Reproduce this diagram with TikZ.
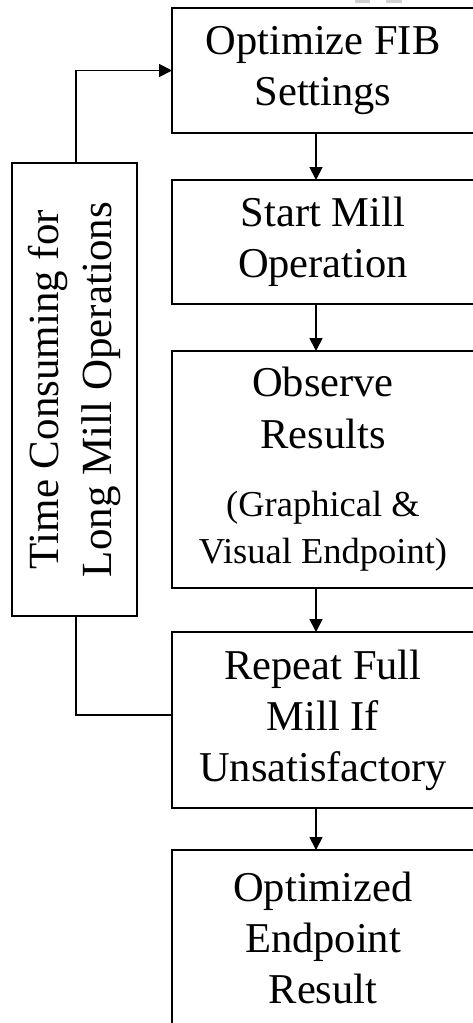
\documentclass[tikz,border=0pt]{standalone}
\usepackage{fontspec}
\setmainfont{Liberation Serif}
\usetikzlibrary{arrows.meta}

\begin{document}
\begin{tikzpicture}[x=1pt,y=-1pt,
  stepbox/.style={draw, line width=2.6pt, minimum width=302pt,
    align=center, inner sep=0pt, outer sep=0pt,
    font=\fontsize{42.5}{51}\selectfont},
  sidebox/.style={draw, line width=2.6pt, minimum width=125pt, minimum height=453pt,
    inner sep=0pt, outer sep=0pt},
  conn/.style={line width=1.8pt},
  flow/.style={conn, -{Triangle[length=13pt,width=13pt]}}]
  \useasboundingbox (0,0) rectangle (473,1023);

  % faint marks along the top edge
  \fill[black!18] (355,0) rectangle (370,3);
  \fill[black!18] (386,0) rectangle (402,3);

  % main sequence of steps
  \node[stepbox, minimum height=125pt] (opt) at (323,70.5) {Optimize FIB\\Settings};
  \node[stepbox, minimum height=124pt] (start) at (323,242) {Start Mill\\Operation};
  \node[stepbox, minimum height=237pt] (obs) at (323,469.5)
    {Observe\\[1pt]Results\\[17pt]\fontsize{36.5}{45}\selectfont (Graphical \&\\[-4pt]\fontsize{36.5}{45}\selectfont Visual Endpoint)};
  \node[stepbox, minimum height=176pt] (rep) at (323,720) {Repeat Full\\Mill If\\Unsatisfactory};
  \node[stepbox, minimum height=176pt] (res) at (323,938) {Optimized\\Endpoint\\Result};

  % side note on the repeat loop
  \node[sidebox] (tc) at (74.5,389.5) {};
  \node[rotate=90, align=center, font=\fontsize{43}{53}\selectfont] (tctext) at (tc.center)
    {Time Consuming for\\Long Mill Operations};

  % downward arrows between steps
  \coordinate (ax) at (316,0);
  \draw[flow] (opt.south -| ax) -- (start.north -| ax);
  \draw[flow] (start.south -| ax) -- (obs.north -| ax);
  \draw[flow] (obs.south -| ax) -- (rep.north -| ax);
  \draw[flow] (rep.south -| ax) -- (res.north -| ax);

  % feedback loop through the side note
  \coordinate (lx) at (76,0);
  \draw[flow] (tc.north -| lx) |- (opt.west);
  \draw[conn] (tc.south -| lx) |- ([yshift=5pt]rep.west);
\end{tikzpicture}
\end{document}
